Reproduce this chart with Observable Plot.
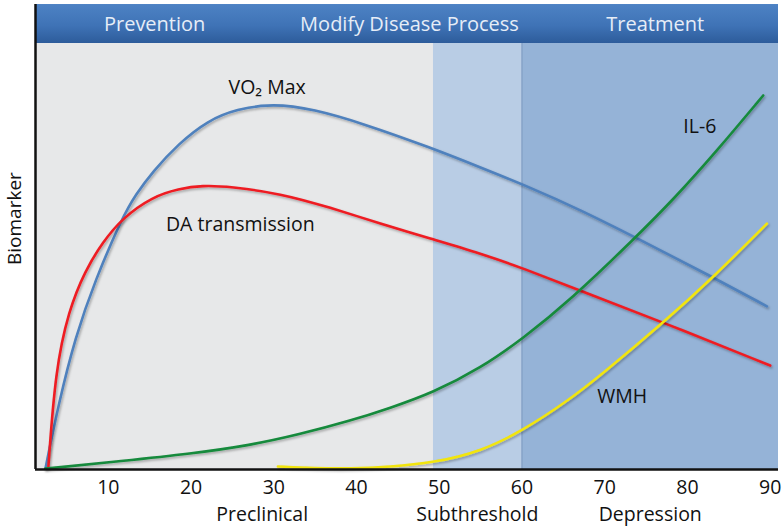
<!DOCTYPE html>
<html>
<head>
<meta charset="utf-8">
<script src="https://cdn.jsdelivr.net/npm/d3@7"></script>
<script src="https://cdn.jsdelivr.net/npm/@observablehq/plot@0.6"></script>
<style>
  html, body { margin: 0; padding: 0; background: #ffffff; }
  #chart { width: 784px; height: 532px; }
</style>
</head>
<body>
<div id="chart"></div>
<script>
// ---------- data ----------
const xTicks = [10, 20, 30, 40, 50, 60, 70, 80, 90];

const phaseNames = ["Prevention", "Modify Disease Process", "Treatment"];
const phaseCenters = [15.6, 46.4, 76.1];

const stageNames = ["Preclinical", "Subthreshold", "Depression"];
const stageCenters = [28.6, 54.6, 75.5];

const regionStart = [1.2, 49.3, 60];
const regionEnd = [49.3, 60, 91];

const vo2X = [2.4, 4.0, 6.0, 8.4, 11.7, 13.3, 15.4, 18.5, 22.0, 25.5, 29.9, 34.8, 40.8, 48.9, 55.0, 61.0, 67.0, 73.7, 83.1, 89.6];
const vo2Y = [0.2, 15.5, 31.0, 44.4, 59.2, 64.5, 70.0, 76.5, 81.9, 84.6, 85.9, 84.6, 81.2, 75.6, 70.9, 66.2, 61.0, 54.5, 45.1, 38.3];

const daX = [2.75, 3.6, 5.2, 7.2, 9.3, 11.7, 15.3, 18.5, 21.4, 24.7, 30.8, 36.8, 42.9, 48.9, 55.0, 60.2, 67.0, 77.1, 90.0];
const daY = [0.5, 23.2, 37.3, 46.7, 53.3, 59.0, 64.0, 65.9, 66.7, 66.4, 64.8, 61.5, 57.7, 54.2, 50.7, 47.2, 42.0, 34.5, 24.4];

const il6X = [2.4, 11.7, 20.0, 27.2, 33.0, 39.2, 44.0, 49.3, 55.0, 60.15, 65.8, 73.7, 78.5, 83.6, 89.15];
const il6Y = [0.2, 2.0, 3.7, 5.7, 8.2, 11.4, 14.4, 18.1, 23.8, 30.8, 39.7, 54.4, 63.8, 74.9, 87.8];

const wmhX = [30.5, 35.0, 39.2, 44.0, 49.3, 55.0, 60.15, 65.6, 69.5, 77.1, 83.1, 89.6];
const wmhY = [0.7, 0.3, 0.2, 0.6, 1.6, 4.2, 9.2, 16.2, 22.1, 34.5, 45.1, 57.7];

const seriesNames = ["VO₂ Max", "DA transmission", "IL-6", "WMH"];
const labelX = [29.2, 25.95, 81.5, 72.1];
const labelY = [89.7, 57.5, 80.5, 17.1];

const yLabel = "Biomarker";

// ---------- build ----------
const toPts = (xs, ys) => xs.map((x, i) => ({x, y: ys[i]}));
const regions = regionStart.map((s, i) => ({x1: s, x2: regionEnd[i], k: i}));
const regionColors = ["#e7e8e9", "#b9cde5", "#95b3d7"];
const phases = phaseNames.map((n, i) => ({n, x: phaseCenters[i]}));
const stages = stageNames.map((n, i) => ({n, x: stageCenters[i]}));
const labels = seriesNames.map((n, i) => ({n, x: labelX[i], y: labelY[i]}));

const FONT = "Open Sans, sans-serif";
const lineOpts = {x: "x", y: "y", curve: "basis", strokeWidth: 2.6, strokeLinecap: "round"};

const svg = Plot.plot({
  width: 784,
  height: 532,
  marginLeft: 35,
  marginRight: 6,
  marginTop: 43,
  marginBottom: 63,
  style: {fontFamily: FONT, background: "white", color: "#111"},
  x: {domain: [1.2, 91], axis: null},
  y: {domain: [0, 100], axis: null},
  marks: [
    Plot.rectX(regions, {x1: "x1", x2: "x2", y1: 0, y2: 100, fill: d => regionColors[d.k]}),
    Plot.ruleX([60], {y1: 0, y2: 100, stroke: "#86a3c8", strokeWidth: 1.5}),
    // header band
    Plot.rectX([0], {x1: 1.2, x2: 91, y1: 100, y2: 109.15, fill: "url(#hdrGrad)", ariaLabel: "header"}),
    Plot.text(phases, {x: "x", y: 104.46, text: "n", fill: "#e6edf7", fontSize: 20, fontFamily: FONT}),
    // curves
    Plot.line(toPts(vo2X, vo2Y), {...lineOpts, stroke: "#4f81bd"}),
    Plot.line(toPts(daX, daY), {...lineOpts, stroke: "#ee1c24"}),
    Plot.line(toPts(il6X, il6Y), {...lineOpts, stroke: "#168a3c"}),
    Plot.line(toPts(wmhX, wmhY), {...lineOpts, stroke: "#f2e50b"}),
    // series labels
    Plot.text(labels, {x: "x", y: "y", text: "n", fontSize: 19.5, fill: "#111", fontFamily: FONT}),
    // axes lines
    Plot.ruleY([0], {x1: 1.2, x2: 91, stroke: "#111", strokeWidth: 2.5}),
    Plot.ruleX([1.2], {y1: 0, y2: 109.15, stroke: "#111", strokeWidth: 2.5}),
    Plot.axisX(xTicks, {tickSize: 0, tickPadding: 11, fontSize: 19.5, fontFamily: FONT, fill: "#111"}),
    Plot.text(stages, {x: "x", text: "n", frameAnchor: "bottom", dy: 51, fontSize: 19.5, fill: "#111", fontFamily: FONT}),
    Plot.text([yLabel], {text: d => d, frameAnchor: "left", textAnchor: "middle", y: 58.9, dx: -21, rotate: -90, fontSize: 19, fill: "#111", fontFamily: FONT})
  ]
});

const defs = d3.select(svg).insert("defs", ":first-child");
const g = defs.append("linearGradient").attr("id", "hdrGrad").attr("x1", 0).attr("y1", 0).attr("x2", 0).attr("y2", 1);
g.append("stop").attr("offset", "0%").attr("stop-color", "#4d82c4");
g.append("stop").attr("offset", "55%").attr("stop-color", "#3f73b6");
g.append("stop").attr("offset", "100%").attr("stop-color", "#2d5c9b");
const f = defs.append("filter").attr("id", "shadow").attr("x", "-5%").attr("y", "-5%").attr("width", "110%").attr("height", "110%");
f.append("feDropShadow").attr("dx", 1.2).attr("dy", 1.6).attr("stdDeviation", 1).attr("flood-color", "#000").attr("flood-opacity", 0.3);
d3.select(svg).selectAll("g[aria-label=line] path").attr("filter", "url(#shadow)");
d3.select(svg).selectAll("g[aria-label=header] rect").attr("filter", "url(#shadow)");

document.getElementById("chart").appendChild(svg);
</script>
</body>
</html>
